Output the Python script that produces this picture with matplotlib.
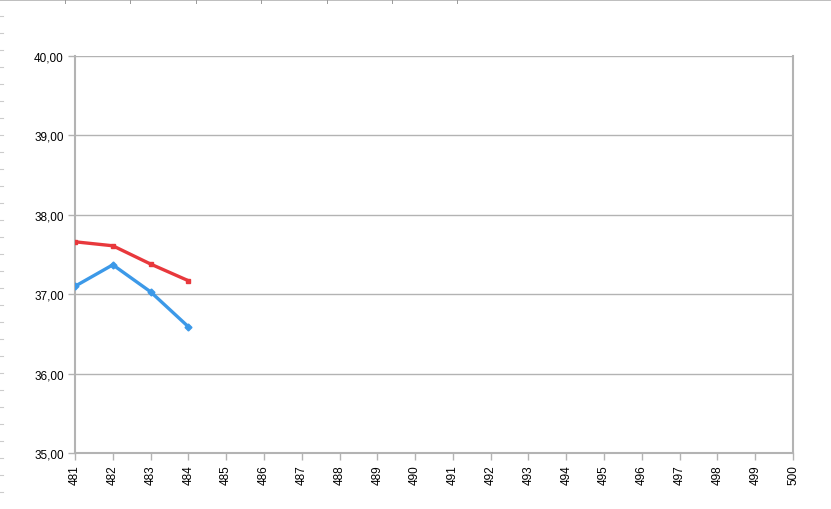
import matplotlib.pyplot as plt
from matplotlib.lines import Line2D

# datos
semanas = list(range(481, 501))
x_serie = [481, 482, 483, 484]
serie_roja = [37.66, 37.61, 37.38, 37.17]
serie_azul = [37.10, 37.37, 37.03, 36.59]
y_ticks = [35, 36, 37, 38, 39, 40]

plt.rcParams['font.family'] = ['Liberation Sans', 'DejaVu Sans']

fig = plt.figure(figsize=(8.31, 5.10), dpi=100)
W, H = 831, 510
ax = fig.add_axes([75 / W, 1 - 454 / H, (793 - 75) / W, (454 - 57) / H])

gris = '#b3b3b3'
ax.plot(x_serie, serie_roja, color='#e8383c', lw=2.4, marker='s', ms=3.5, zorder=3)
ax.plot(x_serie, serie_azul, color='#3c99e8', lw=2.4, marker='D', ms=3.5, zorder=3)

ax.set_xlim(481, 500)
ax.set_ylim(35, 40)
ax.set_xticks(semanas)
ax.set_xticklabels([str(s) for s in semanas], rotation=90, fontsize=8.5)
ax.set_yticks(y_ticks)
ax.set_yticklabels([f'{v:.2f}'.replace('.', ',') for v in y_ticks], fontsize=8.5)
ax.yaxis.grid(True, color=gris, lw=1.0)
ax.set_axisbelow(True)
for s in ax.spines.values():
    s.set_color(gris)
    s.set_linewidth(1.5)
ax.spines['top'].set_visible(False)
ax.tick_params(colors=gris, labelcolor='black', length=5, width=1.0, pad=3)

# bordes de la hoja de calculo
fig.add_artist(Line2D([0, 1], [1 - 1 / H, 1 - 1 / H], color=gris, lw=1.2))
for xt in [65, 130, 196, 261, 327, 392, 457]:
    fig.add_artist(Line2D([xt / W, xt / W], [1 - 1 / H, 1 - 3.5 / H], color='#999999', lw=0.7))
for yt in range(17, 500, 17):
    fig.add_artist(Line2D([0, 3 / W], [1 - yt / H, 1 - yt / H], color='#cccccc', lw=0.8))

fig.savefig('out.png', dpi=100)
